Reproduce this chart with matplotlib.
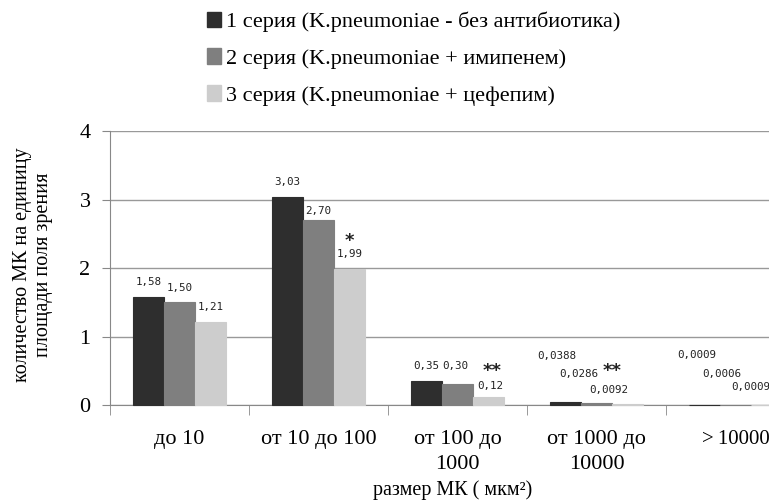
import matplotlib.pyplot as plt
import numpy as np
from matplotlib.patches import Patch

categories = ['до 10', 'от 10 до 100', 'от 100 до\n1000', 'от 1000 до\n10000', '>\u200910000']
series_names = ['1 серия (K.pneumoniae - без антибиотика)',
                '2 серия (K.pneumoniae + имипенем)',
                '3 серия (K.pneumoniae + цефепим)']
s1 = [1.58, 3.03, 0.35, 0.0388, 0.0009]
s2 = [1.50, 2.70, 0.30, 0.0286, 0.0006]
s3 = [1.21, 1.99, 0.12, 0.0092, 0.0009]
s1_text = ['1,58', '3,03', '0,35', '0,0388', '0,0009']
s2_text = ['1,50', '2,70', '0,30', '0,0286', '0,0006']
s3_text = ['1,21', '1,99', '0,12', '0,0092', '0,0009']
# significance marks: (category index, series index, mark)
stars = [(1, 2, '*'), (2, 2, '**'), (3, 1, '**')]

colors = ['#2e2e2e', '#7f7f7f', '#cdcdcd']
plt.rcParams['font.family'] = ['Liberation Serif', 'DejaVu Serif']

fig = plt.figure(figsize=(7.69, 5.04), dpi=100)
ax = fig.add_axes([110 / 769, 1 - 405 / 504, 695 / 769, 274 / 504])

x = np.arange(len(categories))
w = 0.222
series = [s1, s2, s3]
texts = [s1_text, s2_text, s3_text]
bars = []
for i, vals in enumerate(series):
    b = ax.bar(x + (i - 1) * w, vals, w, color=colors[i], edgecolor=colors[i],
               linewidth=0.8, zorder=3, clip_on=False)
    bars.append(b)

# label offsets in pixels (dx, dy) for each category/series
offs = {
    (0, 0): (0, 15), (1, 0): (0, 15), (2, 0): (0, 15), (0, 1): (0, 14), (1, 1): (0, 9),
    (2, 1): (-2, 18), (0, 2): (0, 15), (1, 2): (0, 15), (2, 2): (2, 11),
    (3, 0): (-9, 46), (3, 1): (-18, 29), (3, 2): (-19, 14),
    (4, 0): (-8, 50), (4, 1): (-14, 31), (4, 2): (-16, 18),
}
for i in range(3):
    for j, rect in enumerate(bars[i]):
        dx, dy = offs[(j, i)]
        ax.annotate(texts[i][j], (rect.get_x() + rect.get_width() / 2, rect.get_height()),
                    xytext=(dx, dy), textcoords='offset pixels', ha='center', va='center',
                    fontsize=7.8, family='DejaVu Sans Mono', color='#222222',
                    annotation_clip=False)

star_offs = {(1, 2): (0, 28), (2, 2): (4, 26), (3, 1): (16, 32)}
for j, i, mark in stars:
    rect = bars[i][j]
    dx, dy = star_offs[(j, i)]
    ax.annotate(mark, (rect.get_x() + rect.get_width() / 2, rect.get_height()),
                xytext=(dx, dy), textcoords='offset pixels', ha='center', va='center',
                fontsize=13, family='DejaVu Sans', fontweight='bold', color='#222222',
                annotation_clip=False)

ax.set_xlim(-0.5, len(categories) - 0.5)
ax.set_ylim(0, 4)
ax.set_yticks([0, 1, 2, 3, 4])
ax.set_xticks(x)
ax.set_xticklabels(categories, fontsize=16, linespacing=1.4)
ax.get_xticklabels()[-1].set_fontsize(15)
ax.set_xticks(np.arange(len(categories) + 1) - 0.5, minor=True)
ax.tick_params(axis='x', which='major', length=0, pad=18)
ax.tick_params(axis='x', which='minor', length=7, color='#888888', direction='out')
ax.tick_params(axis='y', length=6, color='#888888', pad=8, labelsize=16)
ax.grid(axis='y', color='#999999', linewidth=1, zorder=0)
for s in ['top', 'right']:
    ax.spines[s].set_visible(False)
ax.spines['left'].set_color('#888888')
ax.spines['bottom'].set_color('#888888')

fig.text(33 / 769, 1 - 265 / 504, 'количество МК на единицу\nплощади поля зрения',
         rotation=90, ha='center', va='center', fontsize=14.5, linespacing=1.1)
fig.text(453 / 769, 1 - 490 / 504, 'размер МК ( мкм²)', ha='center', va='center',
         fontsize=14.5)

handles = [Patch(facecolor=c, edgecolor=c) for c in colors]
fig.legend(handles, series_names, loc='upper left', bbox_to_anchor=(187 / 769, 1.016),
           frameon=False, prop={'size': 16}, handlelength=0.62,
           handleheight=0.7, handletextpad=0.22, labelspacing=0.72)

fig.savefig('out.png', dpi=100)
